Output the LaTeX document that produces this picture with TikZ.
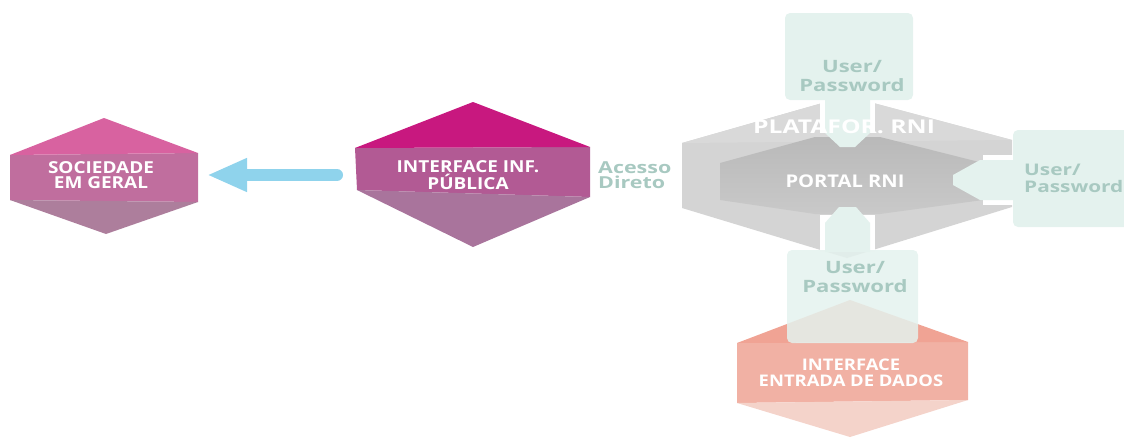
\documentclass[tikz,border=0pt]{standalone}
\usepackage{fontspec}
\setmainfont{Open Sans}
\newfontfamily\hexfont[FakeStretch=1.15]{Open Sans}
\newfontfamily\userfont[FakeStretch=1.3]{Open Sans}
\usetikzlibrary{arrows.meta}

\definecolor{socTop}{HTML}{D862A0}
\definecolor{socMid}{HTML}{C06E9E}
\definecolor{socLow}{HTML}{AD7E9C}
\definecolor{pubTop}{HTML}{C8187F}
\definecolor{pubMid}{HTML}{B25A94}
\definecolor{pubLow}{HTML}{A9749C}
\definecolor{rniTop}{HTML}{D9D9D9}
\definecolor{rniLow}{HTML}{D4D4D4}
\definecolor{portalTop}{HTML}{B9B9B9}
\definecolor{portalLow}{HTML}{C9C9C9}
\definecolor{dadosTop}{HTML}{F0A394}
\definecolor{dadosMid}{HTML}{F1B1A4}
\definecolor{dadosLow}{HTML}{F4D3CA}
\definecolor{mint}{HTML}{E4F2EE}
\definecolor{userText}{HTML}{A8C9C1}
\definecolor{arrowBlue}{HTML}{8FD3EC}

\begin{document}
\begin{tikzpicture}[x=1pt,y=-1pt,
    hexlabel/.style={text=white,font=\hexfont\bfseries\fontsize{16.5}{15.5}\selectfont,align=center,inner sep=0pt},
    userlabel/.style={text=userText,font=\userfont\bfseries\fontsize{17}{19}\selectfont,align=center,inner sep=0pt},
    mintbox/.style={fill=mint,rounded corners=5pt},
    userarrow/.style={fill=mint}]
  \useasboundingbox (0,0) rectangle (1124,439);
  \clip (0,0) rectangle (1124,439);

  % sociedade em geral
  \fill [socMid] (10,155) -- (198,153) -- (198,202) -- (10,200) -- cycle;
  \fill [socTop] (10,155) -- (104,118) -- (198,153) -- cycle;
  \fill [socLow] (10,200) -- (198,202) -- (106,234) -- cycle;
  \node [hexlabel] (soc) at (101,175) {SOCIEDADE\\EM GERAL};
  \coordinate (socE) at (207,175);

  % interface inf. publica
  \fill [pubMid] (355,148) -- (590,147) -- (590,197) -- (357,190) -- cycle;
  \fill [pubTop] (355,148) -- (473,102) -- (590,147) -- cycle;
  \fill [pubLow] (357,190) -- (590,197) -- (473,247) -- cycle;
  \node [hexlabel] (pub) at (468,175) {INTERFACE INF.\\PÚBLICA};
  \coordinate (pubW) at (337,175);

  \draw [arrowBlue,line width=12pt,line cap=round,-{Triangle[length=40pt,width=31pt]}] (pubW) -- (socE);

  \node [userlabel,align=left,anchor=west,font=\userfont\bfseries\fontsize{16.5}{15}\selectfont] (acesso) at (598,175) {Acesso\\Direto};

  % plataforma rni
  \fill [rniLow] (682,143) -- (847,96) -- (1012,140) -- (1012,207) -- (847,258) -- (682,208) -- cycle;
  \fill [rniTop] (682,143) -- (847,96) -- (1012,140) -- cycle;
  \shade [top color=portalTop,bottom color=portalLow] (720,163) -- (815,137) -- (880,137) -- (983,163) -- (983,200) -- (880,214) -- (815,214) -- (720,200) -- cycle;

  % user/password arrows, white gaps first
  \fill [white] (820,95) rectangle (875,133);
  \fill [white] (983,155) rectangle (1013,205);
  \fill [white] (820,215) rectangle (875,252);
  \fill [userarrow] (825,95) -- (825,133) -- (840,147) -- (855,147) -- (870,133) -- (870,95) -- cycle;
  \fill [userarrow] (1015,160) -- (980,160) -- (953,175) -- (953,185) -- (980,200) -- (1015,200) -- cycle;
  \fill [userarrow] (825,252) -- (825,223) -- (839,207) -- (856,207) -- (870,223) -- (870,252) -- cycle;

  \node [hexlabel,font=\userfont\bfseries\fontsize{19}{20}\selectfont] (plataf) at (844,127) {PLATAFOR. RNI};
  \node [hexlabel,font=\hexfont\bfseries\fontsize{17.5}{20}\selectfont] (portal) at (845,181) {PORTAL RNI};

  % interface entrada de dados
  \fill [dadosMid] (737,343) -- (968,342) -- (968,400) -- (737,403) -- cycle;
  \fill [dadosTop] (737,343) -- (850,300) -- (968,342) -- cycle;
  \fill [dadosLow] (737,403) -- (968,400) -- (850,437) -- cycle;

  % boxes
  \fill [mintbox] (785,13) rectangle (913,100);
  \fill [mintbox] (1013,130) rectangle (1135,227);
  \fill [mintbox,opacity=0.85] (787,250) rectangle (918,343);

  \node [userlabel] (userTop) at (852,76) {User/\\Password};
  \node [userlabel,align=left,anchor=west,font=\userfont\bfseries\fontsize{16}{17}\selectfont] (userRight) at (1024,178) {User/\\Password};
  \node [userlabel] (userBottom) at (855,277) {User/\\Password};
  \node [hexlabel,font=\hexfont\bfseries\fontsize{16}{16}\selectfont] (entrada) at (851,373) {INTERFACE\\ENTRADA DE DADOS};
\end{tikzpicture}
\end{document}
